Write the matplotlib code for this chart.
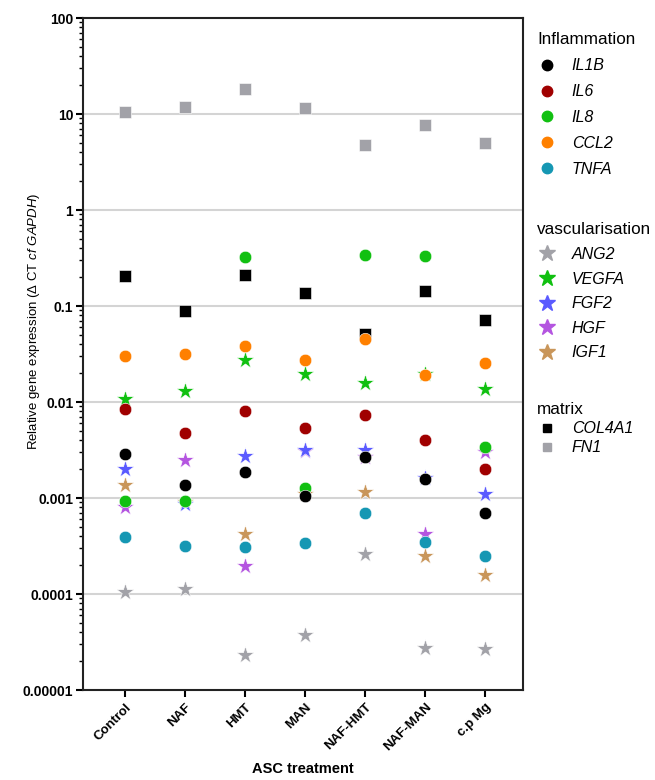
import matplotlib
matplotlib.use("Agg")
import matplotlib.pyplot as plt
from matplotlib.lines import Line2D
from matplotlib.ticker import LogLocator, FixedFormatter, FixedLocator, NullFormatter

plt.rcParams['font.family'] = ['Liberation Sans', 'DejaVu Sans']
plt.rcParams['mathtext.fontset'] = 'custom'
plt.rcParams['mathtext.rm'] = 'Liberation Sans'
plt.rcParams['mathtext.it'] = 'Liberation Sans:italic'
plt.rcParams['mathtext.bf'] = 'Liberation Sans:bold'

treatments = ["Control", "NAF", "HMT", "MAN", "NAF-HMT", "NAF-MAN", "c.p Mg"]

# Inflammation
IL1B = [0.0029, 0.00138, 0.00188, 0.00105, 0.00265, 0.00158, 0.0007]
IL6 = [0.0084, 0.0048, 0.0080, 0.0053, 0.0073, 0.0040, 0.0020]
IL8 = [0.00094, 0.00093, 0.327, 0.00126, 0.337, 0.330, 0.00342]
CCL2 = [0.0302, 0.0317, 0.0387, 0.0274, 0.0453, 0.0192, 0.0257]
TNFA = [0.00039, 0.000316, 0.00031, 0.00034, 0.0007, 0.00035, 0.00025]
# vascularisation
ANG2 = [0.000105, 0.000112, 2.3e-5, 3.7e-5, 0.00026, 2.75e-5, 2.65e-5]
VEGFA = [0.0107, 0.0130, 0.0274, 0.0196, 0.0156, 0.0195, 0.0136]
FGF2 = [0.0020, 0.00086, 0.00274, 0.00316, 0.0032, 0.0016, 0.0011]
HGF = [0.0008, 0.0025, 0.000196, 0.0031, 0.0027, 0.00042, 0.0030]
IGF1 = [0.00135, 0.0009, 0.00042, 0.0011, 0.00115, 0.00025, 0.000158]
# matrix
COL4A1 = [0.205, 0.0893, 0.21, 0.135, 0.051, 0.144, 0.0715]
FN1 = [10.5, 11.8, 18.2, 11.5, 4.79, 7.6, 5.0]

inflammation = [("IL1B", IL1B, "#000000"), ("IL6", IL6, "#a00000"),
                ("IL8", IL8, "#11c011"), ("CCL2", CCL2, "#ff8000"),
                ("TNFA", TNFA, "#1597b3")]
vascular = [("ANG2", ANG2, "#a2a2a8"), ("VEGFA", VEGFA, "#10c010"),
            ("FGF2", FGF2, "#5a5aff"), ("HGF", HGF, "#b455e0"),
            ("IGF1", IGF1, "#c9965a")]
matrix = [("COL4A1", COL4A1, "#000000"), ("FN1", FN1, "#a2a2a8")]

fig = plt.figure(figsize=(6.55, 7.8), dpi=100)
ax = fig.add_axes([83/655, 1-690/780, (523-83)/655, (690-18)/780])

x = list(range(len(treatments)))
circ_s = 9.0**2
star_s = 13.0**2
sq_s = 8.5**2

z = 3
for name, vals, col in matrix[::-1]:
    ax.scatter(x, vals, marker='s', s=sq_s, color=col, edgecolors='white', linewidths=0.4, zorder=z); z += 1
for name, vals, col in vascular[::-1]:
    ax.scatter(x, vals, marker='*', s=star_s, color=col, edgecolors='white', linewidths=0.4, zorder=z); z += 1
for name, vals, col in inflammation[::-1]:
    ax.scatter(x, vals, marker='o', s=circ_s, color=col, edgecolors='white', linewidths=0.4, zorder=z); z += 1

ax.set_yscale('log')
ax.set_ylim(1e-5, 100)
ax.set_xlim(-0.7, 6.63)

ylabels = ["0.00001", "0.0001", "0.001", "0.01", "0.1", "1", "10", "100"]
yticks = [1e-5, 1e-4, 1e-3, 1e-2, 1e-1, 1, 10, 100]
ax.yaxis.set_major_locator(FixedLocator(yticks))
ax.yaxis.set_major_formatter(FixedFormatter(ylabels))
ax.yaxis.set_minor_locator(LogLocator(base=10, subs=range(2, 10), numticks=20))
ax.yaxis.set_minor_formatter(NullFormatter())
for yv in yticks[1:-1]:
    ax.axhline(yv, color='#d4d4d4', lw=1.5, zorder=1)

ax.set_xticks(x)
ax.set_xticklabels(treatments, rotation=45, ha='right', rotation_mode='anchor',
                   fontsize=9.5, fontweight='bold')
for lab in ax.get_yticklabels():
    lab.set_fontweight('bold')
    lab.set_fontsize(10)

ax.tick_params(axis='both', which='major', direction='out', length=5, width=1.5, color='black')
ax.tick_params(axis='y', which='minor', direction='out', length=3, width=1.0)
ax.tick_params(axis='x', which='major', pad=3)
ax.tick_params(axis='y', which='major', pad=2)
for sp in ax.spines.values():
    sp.set_linewidth(1.5)
    sp.set_color('#222222')

ax.set_ylabel(r"Relative gene expression ($\Delta$ CT $\it{cf\ GAPDH}$)", fontsize=9.5)
ax.yaxis.set_label_coords((42 - 83) / 440, (690 - 321) / 672)
ax.set_xlabel("ASC treatment", fontsize=10.5, fontweight='bold', labelpad=6)

def make_legend(items, marker, ms, title, top, spacing):
    handles = [Line2D([], [], marker=marker, linestyle='none', markersize=ms,
                      markerfacecolor=c, markeredgecolor=c) for _, _, c in items]
    labels = [n for n, _, _ in items]
    leg = fig.legend(handles, labels, title=title, loc='upper left',
                     bbox_to_anchor=(531/655, top), frameon=False,
                     prop={'style': 'italic', 'size': 11.5}, title_fontsize=12.3,
                     labelspacing=spacing, handletextpad=0.9, handlelength=1.25,
                     alignment='left', borderaxespad=0)
    return leg

make_legend(inflammation, 'o', 7.5, "Inflammation", 1-26/780, 0.68)
make_legend(vascular, '*', 12, "vascularisation", 1-216/780, 0.6)
make_legend(matrix, 's', 6, "matrix", 1-396/780, 0.25)

fig.savefig("out.png", dpi=100)
